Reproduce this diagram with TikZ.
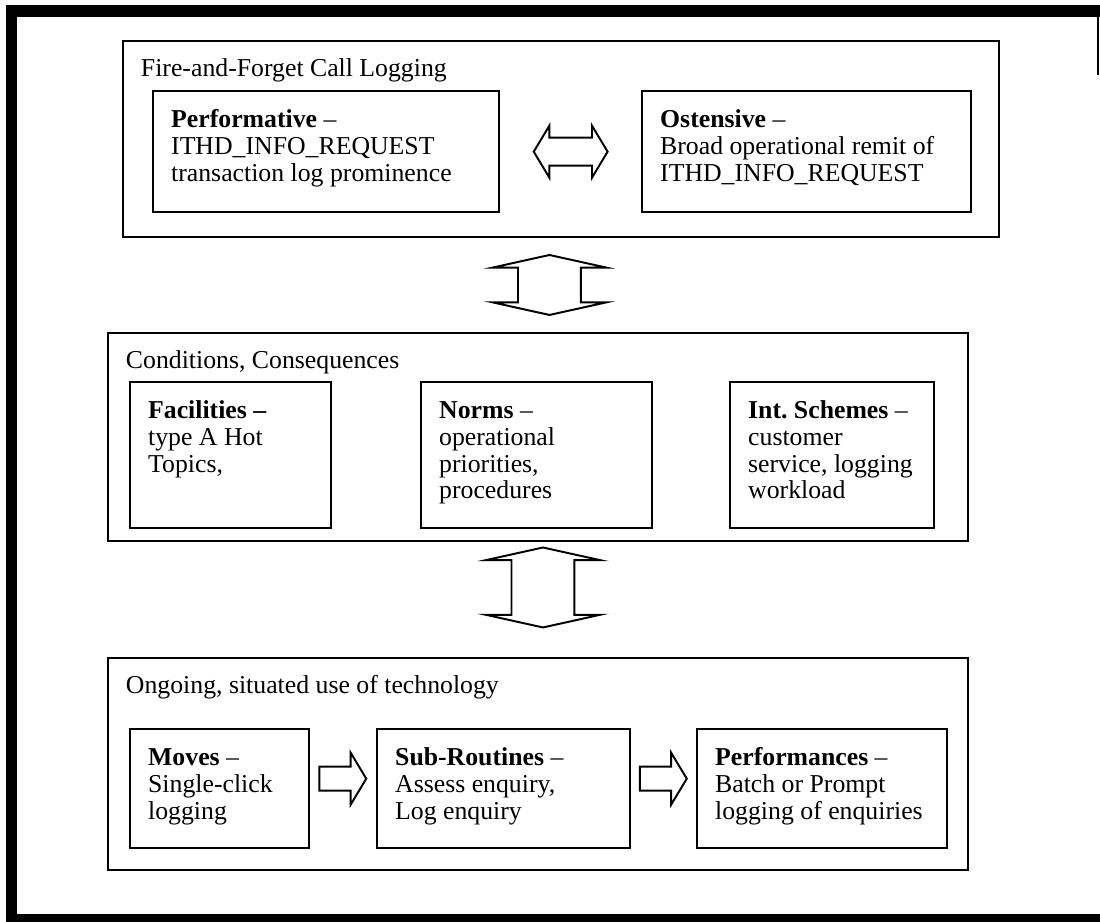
\documentclass[tikz,border=0pt]{standalone}
\usepackage{fontspec}
\setmainfont{Liberation Serif}
\usetikzlibrary{shapes.arrows,calc}

\newcommand{\pxu}{0.018cm}
\tikzset{
  panel/.style 2 args={draw, line width=1pt, anchor=north west, align=flush left,
    inner xsep=18*\pxu, inner ysep=0pt,
    text width=(#1-36)*\pxu, text height=36*\pxu, text depth=(#2-36)*\pxu},
  cell/.style 2 args={panel={#1}{#2}, line width=1.2pt},
  vflow/.style={draw, line width=1pt, double arrow, rotate=90,
    inner xsep=0pt, inner ysep=0.549cm, minimum height=#1,
    double arrow head extend=0.46cm, double arrow tip angle=155,
    double arrow head indent=0pt},
  vflow/.default=1.08cm,
  hflow/.style={draw, line width=1pt, double arrow,
    inner xsep=0pt, inner ysep=0.234cm, minimum height=1.33cm,
    double arrow head extend=0.216cm, double arrow tip angle=118,
    double arrow head indent=0pt},
  seqarrow/.style={draw, line width=1pt, single arrow,
    inner xsep=0pt, inner ysep=0.198cm, minimum height=0.846cm,
    single arrow head extend=0.252cm, single arrow tip angle=118,
    single arrow head indent=0pt}
}

\begin{document}
\begin{tikzpicture}[x=\pxu, y=-\pxu, font=\fontsize{13.2}{13.8}\selectfont]
\useasboundingbox (0,0) rectangle (1100,922);
% page frame
\draw[line width=0.2cm] (11.5,920) -- (11.5,11) -- (1110,11);
\draw[line width=0.2cm] (6,920) -- (1110,920);
\draw[line width=0.6pt] (1098,17) -- (1098,75);

% fire-and-forget
\node[panel={876}{196}] (logging) at (122,40) {Fire-and-Forget Call Logging};
\node[cell={346}{121}] (perf) at (152,90)
  {\textbf{Performative} --\\ITHD\_INFO\_REQUEST\\transaction log prominence};
\node[cell={329}{121}] (ost) at (641,90)
  {\textbf{Ostensive} --\\Broad operational remit of\\ITHD\_INFO\_REQUEST};
\node[hflow] (po) at ($(perf.east)!.5!(ost.west)$) {};

% conditions
\node[panel={860}{208}] (cond) at (107,332) {Conditions, Consequences};
\node[cell={201}{146}] (fac) at (129,381)
  {\textbf{Facilities --}\\type A Hot\\Topics,};
\node[cell={231}{146}] (norms) at (420,381)
  {\textbf{Norms} --\\operational\\priorities,\\procedures};
\node[cell={204}{146}] (schemes) at (729,381)
  {\textbf{Int.\ Schemes} --\\customer\\service, logging\\workload};

% ongoing use
\node[panel={860}{212}] (use) at (107,657) {Ongoing, situated use of technology};
\node[cell={179}{119}] (moves) at (129,728)
  {\textbf{Moves} --\\Single-click\\logging};
\node[cell={253}{119}] (sub) at (376,728)
  {\textbf{Sub-Routines} --\\Assess enquiry,\\Log enquiry};
\node[cell={250}{119}] (perfs) at (696,728)
  {\textbf{Performances} --\\Batch or Prompt\\logging of enquiries};

% links between levels
\node[vflow] (lc) at ($(logging.south)!.5!(cond.north)$) {};
\node[vflow=1.44cm, xshift=12*\pxu, yshift=-5*\pxu] (cu) at ($(cond.south)!.5!(use.north)$) {};
\node[seqarrow, xshift=-4*\pxu, yshift=10*\pxu] (ms) at ($(moves.east)!.5!(sub.west)$) {};
\node[seqarrow, xshift=-4*\pxu, yshift=10*\pxu] (sp) at ($(sub.east)!.5!(perfs.west)$) {};
\end{tikzpicture}
\end{document}
